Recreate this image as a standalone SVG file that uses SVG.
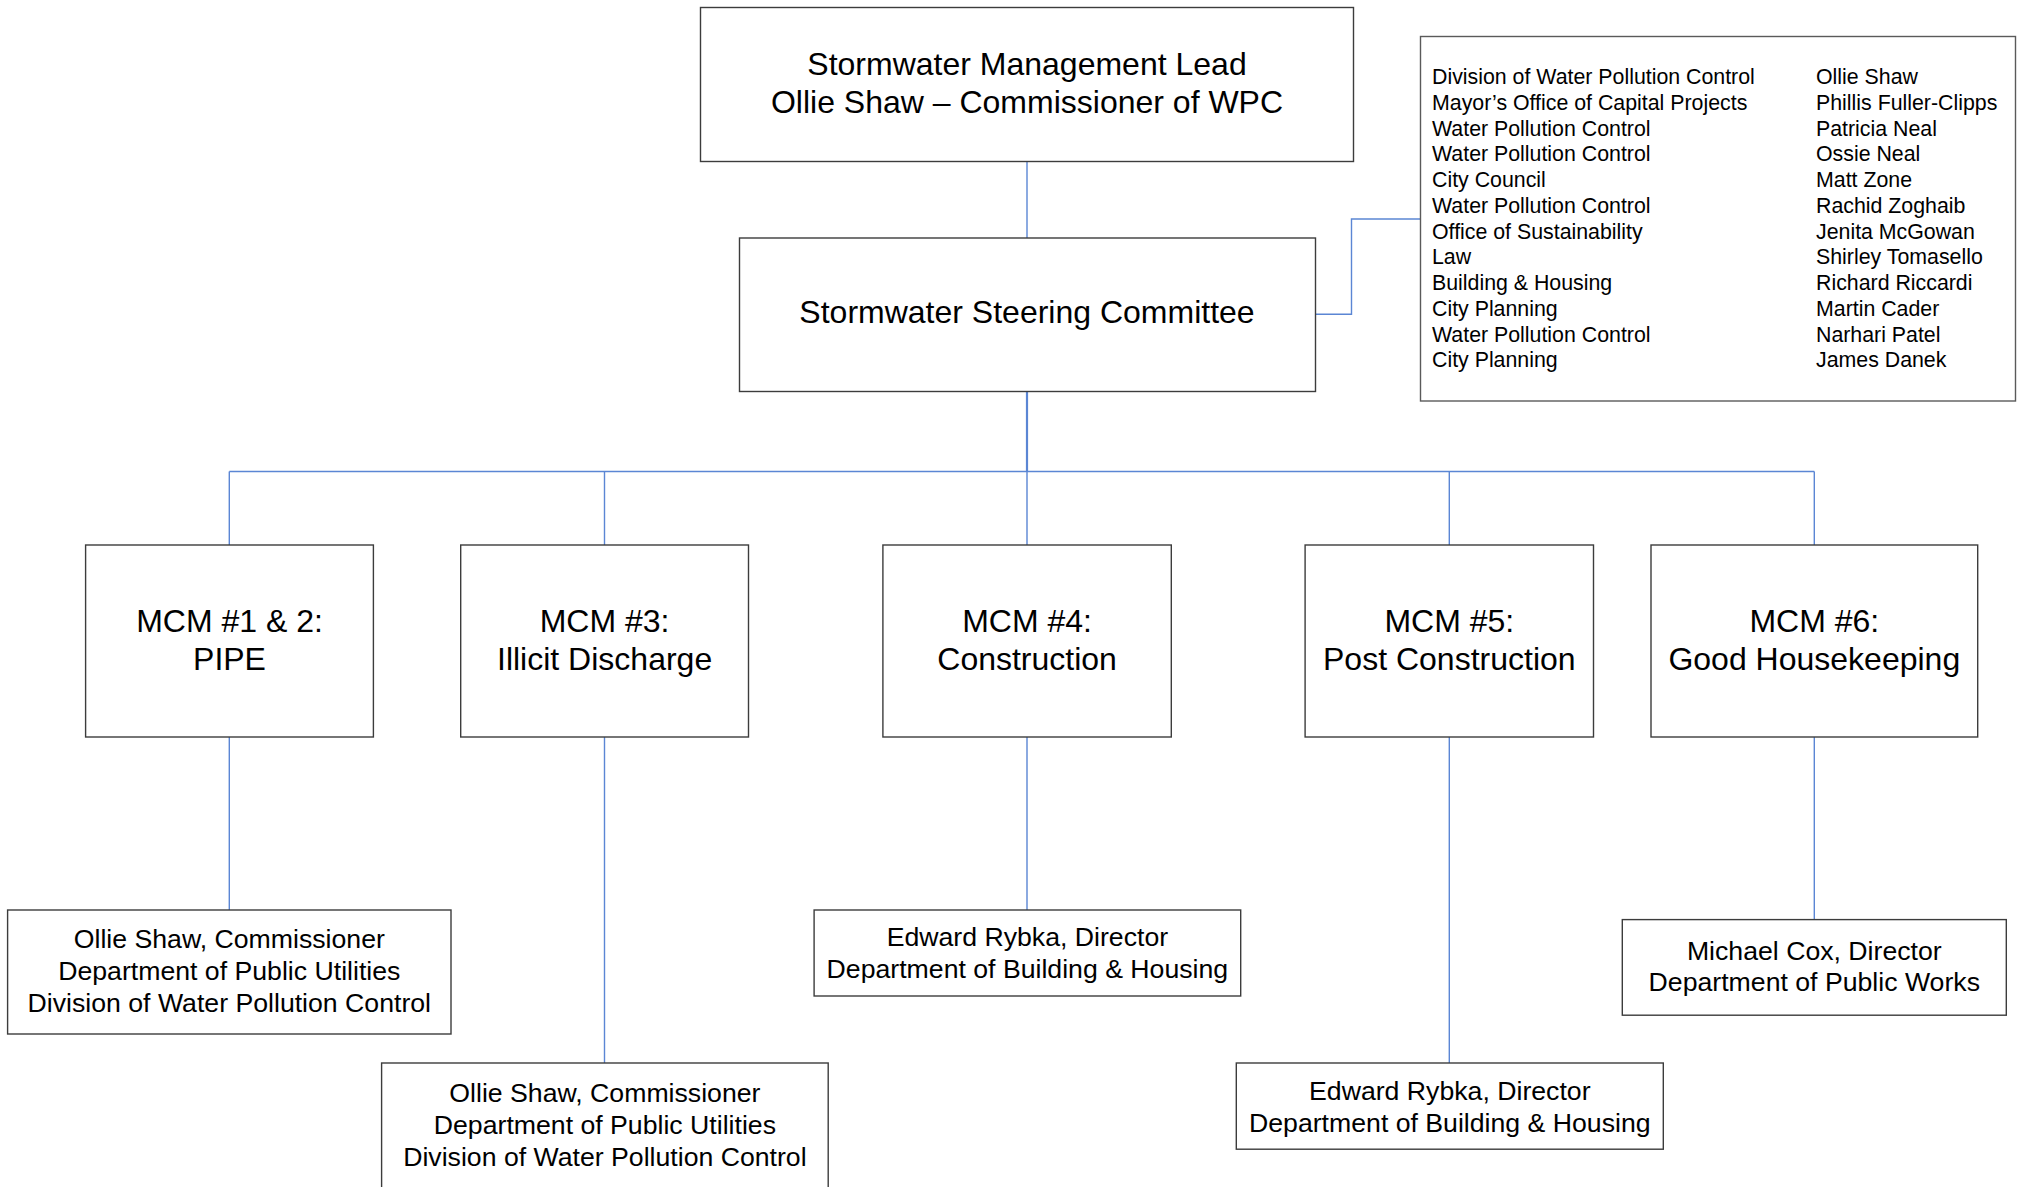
<svg xmlns="http://www.w3.org/2000/svg" width="2017" height="1187" viewBox="0 0 2017 1187">
<style>
.box{fill:#fff;stroke:#3c3c3c;stroke-width:1.4}
.leg{fill:#fff;stroke:#5a5a5a;stroke-width:1.4}
.c{fill:none;stroke:#5b86d4;stroke-width:1.4}
.t{font-family:"Liberation Sans",Arial,sans-serif;fill:#000;text-anchor:middle}
.h{font-size:32px}
.p{font-size:26.67px}
.l{font-family:"Liberation Sans",Arial,sans-serif;fill:#000;font-size:21.33px}
</style>
<rect width="2017" height="1187" fill="#fff"/>
<g id="connectors">
<path class="c" d="M1027 161.5V238"/>
<path class="c" d="M1315.5 314.3H1351.5V219H1420.5"/>
<path class="c" d="M1027 391.5V471.5" style="stroke-width:2.2"/>
<path class="c" d="M229.3 471.5H1814.3"/>
<path class="c" d="M229.3 471.5V545M604.5 471.5V545M1027 471.5V545M1449.3 471.5V545M1814.3 471.5V545"/>
<path class="c" d="M229.3 737V910M604.5 737V1063M1027 737V910M1449.3 737V1063M1814.3 737V919.6"/>
</g>
<g id="lead">
<rect class="box" x="700.5" y="7.5" width="653" height="154"/>
<text class="t h" x="1027" y="75">Stormwater Management Lead</text>
<text class="t h" x="1027" y="112.5">Ollie Shaw – Commissioner of WPC</text>
</g>
<g id="steering">
<rect class="box" x="739.5" y="238" width="576" height="153.5"/>
<text class="t h" x="1027" y="323">Stormwater Steering Committee</text>
</g>
<g id="members">
<rect class="leg" x="1420.5" y="36.5" width="595" height="364.5"/>
<g class="l">
<text x="1432" y="84">Division of Water Pollution Control</text>
<text x="1432" y="109.75">Mayor’s Office of Capital Projects</text>
<text x="1432" y="135.5">Water Pollution Control</text>
<text x="1432" y="161.25">Water Pollution Control</text>
<text x="1432" y="187">City Council</text>
<text x="1432" y="212.75">Water Pollution Control</text>
<text x="1432" y="238.5">Office of Sustainability</text>
<text x="1432" y="264.25">Law</text>
<text x="1432" y="290">Building &amp; Housing</text>
<text x="1432" y="315.75">City Planning</text>
<text x="1432" y="341.5">Water Pollution Control</text>
<text x="1432" y="367.25">City Planning</text>
<text x="1816" y="84">Ollie Shaw</text>
<text x="1816" y="109.75">Phillis Fuller-Clipps</text>
<text x="1816" y="135.5">Patricia Neal</text>
<text x="1816" y="161.25">Ossie Neal</text>
<text x="1816" y="187">Matt Zone</text>
<text x="1816" y="212.75">Rachid Zoghaib</text>
<text x="1816" y="238.5">Jenita McGowan</text>
<text x="1816" y="264.25">Shirley Tomasello</text>
<text x="1816" y="290">Richard Riccardi</text>
<text x="1816" y="315.75">Martin Cader</text>
<text x="1816" y="341.5">Narhari Patel</text>
<text x="1816" y="367.25">James Danek</text>
</g>
</g>
<g id="mcm12">
<rect class="box" x="85.6" y="545" width="287.8" height="192"/>
<text class="t h" x="229.5" y="631.5">MCM #1 &amp; 2:</text>
<text class="t h" x="229.5" y="669.5">PIPE</text>
</g>
<g id="mcm3">
<rect class="box" x="460.7" y="545" width="287.8" height="192"/>
<text class="t h" x="604.6" y="631.5">MCM #3:</text>
<text class="t h" x="604.6" y="669.5">Illicit Discharge</text>
</g>
<g id="mcm4">
<rect class="box" x="882.9" y="545" width="288.4" height="192"/>
<text class="t h" x="1027.1" y="631.5">MCM #4:</text>
<text class="t h" x="1027.1" y="669.5">Construction</text>
</g>
<g id="mcm5">
<rect class="box" x="1305.1" y="545" width="288.4" height="192"/>
<text class="t h" x="1449.3" y="631.5">MCM #5:</text>
<text class="t h" x="1449.3" y="669.5">Post Construction</text>
</g>
<g id="mcm6">
<rect class="box" x="1651" y="545" width="326.7" height="192"/>
<text class="t h" x="1814.3" y="631.5">MCM #6:</text>
<text class="t h" x="1814.3" y="669.5">Good Housekeeping</text>
</g>
<g id="owner12">
<rect class="box" x="7.6" y="910" width="443.4" height="124"/>
<text class="t p" x="229.3" y="948">Ollie Shaw, Commissioner</text>
<text class="t p" x="229.3" y="980">Department of Public Utilities</text>
<text class="t p" x="229.3" y="1012">Division of Water Pollution Control</text>
</g>
<g id="owner3">
<rect class="box" x="381.6" y="1063" width="446.6" height="140"/>
<text class="t p" x="604.9" y="1102">Ollie Shaw, Commissioner</text>
<text class="t p" x="604.9" y="1134">Department of Public Utilities</text>
<text class="t p" x="604.9" y="1165.5">Division of Water Pollution Control</text>
</g>
<g id="owner4">
<rect class="box" x="814.1" y="910" width="426.6" height="86"/>
<text class="t p" x="1027.4" y="946">Edward Rybka, Director</text>
<text class="t p" x="1027.4" y="977.5">Department of Building &amp; Housing</text>
</g>
<g id="owner5">
<rect class="box" x="1236.3" y="1063" width="427" height="86.2"/>
<text class="t p" x="1449.8" y="1099.5">Edward Rybka, Director</text>
<text class="t p" x="1449.8" y="1131.5">Department of Building &amp; Housing</text>
</g>
<g id="owner6">
<rect class="box" x="1622.3" y="919.6" width="384" height="95.6"/>
<text class="t p" x="1814.3" y="960">Michael Cox, Director</text>
<text class="t p" x="1814.3" y="991">Department of Public Works</text>
</g>
</svg>
